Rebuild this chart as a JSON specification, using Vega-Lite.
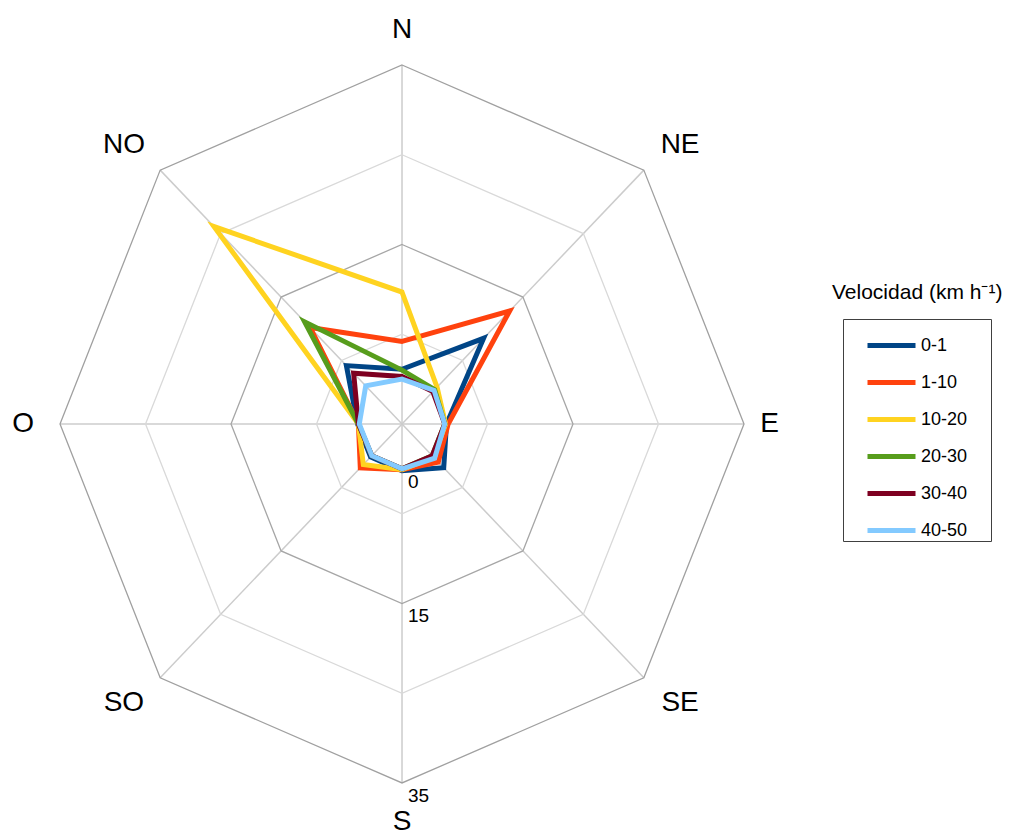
{
  "$schema": "https://vega.github.io/schema/vega-lite/v6.json",
  "width": 1014,
  "height": 837,
  "padding": 0,
  "autosize": {"type": "none"},
  "background": "#ffffff",
  "config": {"view": {"stroke": null}},
  "title": {"text": "Velocidad (km h⁻¹)", "anchor": "start", "frame": "group", "orient": "top", "offset": 0, "dx": 832, "dy": 314, "baseline": "middle", "fontSize": 21, "font": "Liberation Sans", "fontWeight": "normal", "color": "#000000"},
  "datasets": {
    "dirs": [
      {"dir": "N"}, {"dir": "NE"}, {"dir": "E"}, {"dir": "SE"},
      {"dir": "S"}, {"dir": "SO"}, {"dir": "O"}, {"dir": "NO"}
    ],
    "rings": [
      {"r": 10, "dir": "N"}, {"r": 10, "dir": "NE"}, {"r": 10, "dir": "E"}, {"r": 10, "dir": "SE"}, {"r": 10, "dir": "S"}, {"r": 10, "dir": "SO"}, {"r": 10, "dir": "O"}, {"r": 10, "dir": "NO"},
      {"r": 20, "dir": "N"}, {"r": 20, "dir": "NE"}, {"r": 20, "dir": "E"}, {"r": 20, "dir": "SE"}, {"r": 20, "dir": "S"}, {"r": 20, "dir": "SO"}, {"r": 20, "dir": "O"}, {"r": 20, "dir": "NO"},
      {"r": 30, "dir": "N"}, {"r": 30, "dir": "NE"}, {"r": 30, "dir": "E"}, {"r": 30, "dir": "SE"}, {"r": 30, "dir": "S"}, {"r": 30, "dir": "SO"}, {"r": 30, "dir": "O"}, {"r": 30, "dir": "NO"},
      {"r": 40, "dir": "N"}, {"r": 40, "dir": "NE"}, {"r": 40, "dir": "E"}, {"r": 40, "dir": "SE"}, {"r": 40, "dir": "S"}, {"r": 40, "dir": "SO"}, {"r": 40, "dir": "O"}, {"r": 40, "dir": "NO"}
    ],
    "ticks": [
      {"t": "0", "v": 0}, {"t": "15", "v": 15}, {"t": "35", "v": 35}
    ],
    "viento": [
      {"serie": "0-1", "dir": "N", "valor": 1.1}, {"serie": "0-1", "dir": "NE", "valor": 8.5}, {"serie": "0-1", "dir": "E", "valor": 0.2}, {"serie": "0-1", "dir": "SE", "valor": 1.9}, {"serie": "0-1", "dir": "S", "valor": 0.2}, {"serie": "0-1", "dir": "SO", "valor": 0.2}, {"serie": "0-1", "dir": "O", "valor": 0.2}, {"serie": "0-1", "dir": "NO", "valor": 4.2},
      {"serie": "1-10", "dir": "N", "valor": 4.2}, {"serie": "1-10", "dir": "NE", "valor": 12.8}, {"serie": "1-10", "dir": "E", "valor": 0.4}, {"serie": "1-10", "dir": "SE", "valor": 1.0}, {"serie": "1-10", "dir": "S", "valor": 0.1}, {"serie": "1-10", "dir": "SO", "valor": 1.9}, {"serie": "1-10", "dir": "O", "valor": 0.1}, {"serie": "1-10", "dir": "NO", "valor": 10.2},
      {"serie": "10-20", "dir": "N", "valor": 9.7}, {"serie": "10-20", "dir": "NE", "valor": 0.8}, {"serie": "10-20", "dir": "E", "valor": 0.1}, {"serie": "10-20", "dir": "SE", "valor": 0.2}, {"serie": "10-20", "dir": "S", "valor": 0.1}, {"serie": "10-20", "dir": "SO", "valor": 1.4}, {"serie": "10-20", "dir": "O", "valor": 0.1}, {"serie": "10-20", "dir": "NO", "valor": 26.1},
      {"serie": "20-30", "dir": "N", "valor": 1.0}, {"serie": "20-30", "dir": "NE", "valor": 0.4}, {"serie": "20-30", "dir": "E", "valor": 0.0}, {"serie": "20-30", "dir": "SE", "valor": 0.0}, {"serie": "20-30", "dir": "S", "valor": 0.0}, {"serie": "20-30", "dir": "SO", "valor": 0.0}, {"serie": "20-30", "dir": "O", "valor": 0.1}, {"serie": "20-30", "dir": "NO", "valor": 11.1},
      {"serie": "30-40", "dir": "N", "valor": 0.3}, {"serie": "30-40", "dir": "NE", "valor": 0.1}, {"serie": "30-40", "dir": "E", "valor": 0.0}, {"serie": "30-40", "dir": "SE", "valor": 0.0}, {"serie": "30-40", "dir": "S", "valor": 0.0}, {"serie": "30-40", "dir": "SO", "valor": 0.0}, {"serie": "30-40", "dir": "O", "valor": 0.1}, {"serie": "30-40", "dir": "NO", "valor": 3.0},
      {"serie": "40-50", "dir": "N", "valor": 0.0}, {"serie": "40-50", "dir": "NE", "valor": 0.3}, {"serie": "40-50", "dir": "E", "valor": 0.0}, {"serie": "40-50", "dir": "SE", "valor": 0.4}, {"serie": "40-50", "dir": "S", "valor": 0.0}, {"serie": "40-50", "dir": "SO", "valor": 0.0}, {"serie": "40-50", "dir": "O", "valor": 0.0}, {"serie": "40-50", "dir": "NO", "valor": 1.0}
    ]
  },
  "layer": [
    {
      "data": {"name": "dirs"},
      "transform": [
        {"calculate": "indexof(['N','NE','E','SE','S','SO','O','NO'], datum.dir) * PI / 4", "as": "ang"},
        {"calculate": "0", "as": "cx"},
        {"calculate": "0", "as": "cy"},
        {"calculate": "40 * sin(datum.ang)", "as": "ex"},
        {"calculate": "40 * cos(datum.ang)", "as": "ey"}
      ],
      "mark": {"type": "rule", "color": "#cccccc", "strokeWidth": 1.5},
      "encoding": {
        "x": {"field": "cx", "type": "quantitative", "scale": {"domain": [-47.02, 71.58], "nice": false, "zero": false}, "axis": null},
        "y": {"field": "cy", "type": "quantitative", "scale": {"domain": [-46.02, 47.24], "nice": false, "zero": false}, "axis": null},
        "x2": {"field": "ex"},
        "y2": {"field": "ey"}
      }
    },
    {
      "data": {"name": "rings"},
      "transform": [
        {"calculate": "indexof(['N','NE','E','SE','S','SO','O','NO'], datum.dir)", "as": "idx"},
        {"calculate": "datum.r * sin(datum.idx * PI / 4)", "as": "px"},
        {"calculate": "datum.r * cos(datum.idx * PI / 4)", "as": "py"}
      ],
      "mark": {"type": "line", "interpolate": "linear-closed", "strokeWidth": 1.3},
      "encoding": {
        "x": {"field": "px", "type": "quantitative", "scale": {"domain": [-47.02, 71.58], "nice": false, "zero": false}, "axis": null},
        "y": {"field": "py", "type": "quantitative", "scale": {"domain": [-46.02, 47.24], "nice": false, "zero": false}, "axis": null},
        "order": {"field": "idx", "type": "quantitative"},
        "stroke": {"field": "r", "type": "ordinal", "scale": {"domain": [10, 20, 30, 40], "range": ["#d9d9d9", "#a6a6a6", "#d9d9d9", "#a0a0a0"]}, "legend": null}
      }
    },
    {
      "data": {"name": "viento"},
      "transform": [
        {"calculate": "indexof(['N','NE','E','SE','S','SO','O','NO'], datum.dir)", "as": "idx"},
        {"calculate": "(datum.valor + 5) * sin(datum.idx * PI / 4)", "as": "px"},
        {"calculate": "(datum.valor + 5) * cos(datum.idx * PI / 4)", "as": "py"}
      ],
      "mark": {"type": "line", "interpolate": "linear-closed", "strokeWidth": 5},
      "encoding": {
        "x": {"field": "px", "type": "quantitative", "scale": {"domain": [-47.02, 71.58], "nice": false, "zero": false}, "axis": null},
        "y": {"field": "py", "type": "quantitative", "scale": {"domain": [-46.02, 47.24], "nice": false, "zero": false}, "axis": null},
        "order": {"field": "idx", "type": "quantitative"},
        "color": {
          "field": "serie", "type": "nominal",
          "scale": {"domain": ["0-1", "1-10", "10-20", "20-30", "30-40", "40-50"], "range": ["#004586", "#ff420e", "#ffd320", "#579d1c", "#7e0021", "#83caff"]},
          "legend": {
            "orient": "none", "legendX": 843, "legendY": 319,
            "title": "\u00a0", "titleOrient": "right", "titlePadding": 24, "titleFontSize": 18,
            "symbolType": "stroke", "symbolSize": 2304, "symbolStrokeWidth": 5,
            "labelFontSize": 18, "labelFont": "Liberation Sans", "labelColor": "#000000", "labelOffset": 3,
            "rowPadding": 0, "padding": 0, "symbolOffset": 22,
            "strokeColor": "#404040", "fillColor": "#ffffff", "cornerRadius": 0
          }
        }
      }
    },
    {
      "data": {"name": "ticks"},
      "transform": [
        {"calculate": "0", "as": "px"},
        {"calculate": "-(datum.v + 5)", "as": "py"}
      ],
      "mark": {"type": "text", "align": "left", "baseline": "middle", "dx": 6, "dy": 13, "fontSize": 19, "font": "Liberation Sans", "color": "#000000"},
      "encoding": {
        "x": {"field": "px", "type": "quantitative", "scale": {"domain": [-47.02, 71.58], "nice": false, "zero": false}, "axis": null},
        "y": {"field": "py", "type": "quantitative", "scale": {"domain": [-46.02, 47.24], "nice": false, "zero": false}, "axis": null},
        "text": {"field": "t"}
      }
    },
    {
      "data": {"name": "dirs"},
      "transform": [
        {"calculate": "indexof(['N','NE','E','SE','S','SO','O','NO'], datum.dir)", "as": "idx"},
        {"calculate": "(datum.idx % 2 == 1 ? 46 : (datum.idx == 2 ? 43.0 : 44.3)) * sin(datum.idx * PI / 4)", "as": "lx"},
        {"calculate": "(datum.idx == 4 ? 44.4 : 43.9) * cos(datum.idx * PI / 4)", "as": "ly"}
      ],
      "mark": {"type": "text", "align": "center", "baseline": "middle", "fontSize": 28, "font": "Liberation Sans", "color": "#000000"},
      "encoding": {
        "x": {"field": "lx", "type": "quantitative", "scale": {"domain": [-47.02, 71.58], "nice": false, "zero": false}, "axis": null},
        "y": {"field": "ly", "type": "quantitative", "scale": {"domain": [-46.02, 47.24], "nice": false, "zero": false}, "axis": null},
        "text": {"field": "dir"}
      }
    }
  ]
}
